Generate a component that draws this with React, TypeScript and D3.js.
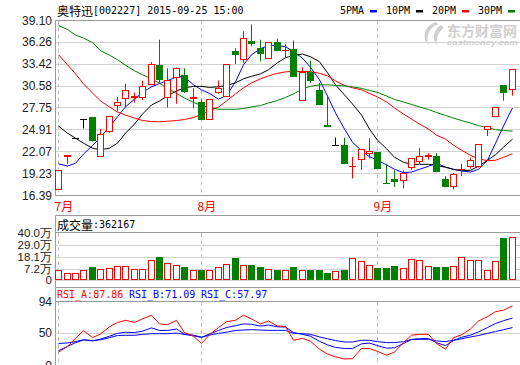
import React from 'react';
import * as d3 from 'd3';

// 奥特迅 002227 daily bars, 2015-07 .. 2015-09-25
const opens = [17.2, 21.45, 23.75, 26.2, 26.5, 21.4, 24.75, 28.1, 29.0, 29.15, 29.1, 30.75, 33.2, 29.1, 31.75, 32.0, 28.95, 28.5, 26.3, 29.7, 29.3, 35.05, 34.1, 36.35, 35.45, 34.15, 36.3, 35.15, 35.3, 28.7, 32.35, 30.0, 25.45, 22.87, 22.9, 20.15, 21.0, 21.85, 22.0, 17.97, 18.45, 18.35, 20.0, 20.75, 21.5, 21.4, 18.5, 17.6, 19.7, 20.1, 20.1, 24.9, 26.6, 30.6, 30.1];
const highs = [19.7, 21.59, 23.75, 26.2, 26.6, 25.0, 26.7, 29.2, 30.9, 29.75, 31.3, 33.7, 36.6, 32.9, 33.0, 32.9, 30.3, 28.9, 28.8, 31.3, 33.4, 35.5, 37.7, 38.6, 36.6, 36.3, 36.75, 36.0, 36.5, 33.0, 33.9, 31.0, 29.4, 23.9, 23.9, 21.4, 22.3, 23.8, 22.0, 20.5, 19.65, 19.65, 21.2, 22.55, 21.9, 21.9, 18.9, 19.3, 20.5, 21.3, 23.0, 25.4, 27.85, 30.65, 32.7];
const lows = [17.1, 20.5, 23.75, 25.1, 23.4, 21.4, 24.5, 27.3, 27.8, 28.45, 28.8, 30.7, 31.0, 27.8, 28.3, 29.7, 27.7, 26.2, 26.2, 29.6, 29.2, 33.45, 33.6, 35.75, 33.8, 34.1, 35.1, 34.2, 31.8, 28.7, 31.0, 28.2, 25.4, 22.87, 20.6, 18.6, 19.7, 21.2, 19.9, 17.92, 17.5, 17.3, 19.7, 20.5, 21.05, 19.4, 17.45, 17.2, 18.9, 19.9, 20.0, 24.1, 26.6, 28.7, 29.35];
const closes = [19.63, 21.59, 23.75, 26.2, 23.5, 24.3, 26.6, 28.5, 30.0, 29.25, 30.5, 33.35, 31.4, 31.3, 32.85, 29.9, 29.05, 26.2, 28.8, 30.3, 33.35, 34.7, 36.7, 36.1, 34.8, 36.25, 35.2, 35.25, 31.8, 32.35, 31.3, 28.2, 25.4, 22.87, 20.6, 20.2, 22.3, 22.15, 19.95, 17.92, 18.15, 19.2, 21.2, 21.5, 21.55, 19.45, 17.5, 19.15, 19.8, 20.95, 23.0, 25.4, 27.85, 29.75, 32.7];
// 成交量, 万
const volumes = [6.34, 3.41, 3.41, 5.5, 8.74, 6.96, 7.9, 9.68, 9.68, 6.96, 6.96, 14.6, 17.3, 12.4, 10.6, 9.05, 6.34, 5.5, 6.34, 8.74, 11.8, 16.4, 10.9, 10.6, 8.22, 6.96, 6.34, 5.5, 8.22, 6.34, 6.34, 5.5, 3.6, 4.56, 6.34, 17.0, 13.7, 10.9, 7.3, 7.3, 10.0, 7.3, 16.1, 14.6, 10.0, 9.05, 8.22, 10.0, 18.15, 15.4, 15.4, 6.34, 13.7, 34.6, 36.2167];

const ma5 = [20.5, 20.22, 20.57, 21.77, 22.87, 23.96, 25.31, 26.6, 27.9, 28.88, 29.76, 30.5, 30.92, 31.3, 31.77, 31.79, 30.75, 30.1, 29.64, 28.88, 29.38, 31.14, 33.36, 34.66, 35.45, 35.84, 35.84, 35.71, 35.05, 34.21, 33.03, 31.4, 29.31, 27.09, 25.01, 23.31, 22.2, 21.42, 20.96, 20.37, 19.79, 19.36, 19.43, 19.79, 20.18, 20.57, 20.09, 19.79, 19.59, 19.43, 19.79, 20.96, 23.18, 25.4, 27.75];
const ma10 = [25.4, 24.48, 23.83, 23.18, 22.53, 22.33, 22.53, 23.18, 24.48, 25.66, 26.96, 28.14, 28.66, 29.31, 29.97, 30.36, 30.55, 30.55, 30.42, 30.49, 30.68, 31.01, 31.53, 31.86, 32.18, 32.71, 33.62, 34.27, 34.6, 34.73, 34.4, 33.75, 32.31, 30.75, 29.44, 28.27, 26.83, 25.01, 23.57, 22.46, 21.35, 20.7, 20.44, 20.44, 20.44, 20.31, 20.05, 19.79, 19.59, 19.66, 20.18, 20.96, 21.68, 22.66, 23.7];
const ma20 = [34.66, 33.36, 32.18, 30.88, 29.7, 28.66, 27.88, 27.22, 26.83, 26.44, 26.12, 25.98, 25.96, 26.03, 26.12, 26.25, 26.51, 26.9, 27.36, 27.88, 28.66, 29.57, 30.36, 31.01, 31.53, 31.92, 32.25, 32.44, 32.48, 32.48, 32.48, 32.25, 31.92, 31.27, 30.68, 30.36, 30.1, 29.64, 29.18, 28.53, 27.75, 26.96, 26.31, 25.66, 25.01, 24.22, 23.7, 22.92, 22.27, 21.61, 21.16, 20.9, 20.96, 21.35, 21.81];
const ma30 = [38.45, 37.93, 37.21, 36.82, 36.23, 35.19, 34.6, 34.01, 33.29, 32.58, 32.05, 31.53, 30.94, 30.29, 29.64, 29.05, 28.46, 28.07, 27.81, 27.58, 27.58, 27.58, 27.68, 27.88, 28.07, 28.4, 28.73, 29.12, 29.57, 30.23, 30.55, 30.75, 30.75, 30.68, 30.62, 30.49, 30.29, 30.03, 29.77, 29.31, 28.86, 28.53, 28.2, 27.88, 27.55, 27.16, 26.77, 26.44, 26.12, 25.79, 25.46, 25.2, 24.94, 24.81, 24.75];

const rsiA = [24, 32, 43, 54, 44, 49, 59, 65, 68, 65, 70, 75, 63, 62, 68, 51, 46, 36, 48, 58, 66, 68, 75, 70, 63, 67, 60, 59.6, 40.5, 43, 39, 28, 21.5, 17.5, 14.5, 15, 29, 29, 25, 19.8, 24, 37, 47.5, 48.6, 48.6, 36, 28, 44, 48, 56, 67, 73, 80, 82, 87.86];
const rsiB = [26, 32, 37, 41, 39.5, 42, 46, 50, 51.5, 51, 53, 57.5, 54, 54, 56, 49, 47.5, 44.5, 49, 54, 58, 60.5, 63, 62.5, 60, 61.5, 59, 58.7, 51, 48.6, 46, 39, 34, 30.5, 29, 29, 35.5, 36.5, 33, 29.5, 30, 36, 41.5, 42.7, 42.7, 37, 33, 40, 44.5, 47.5, 52, 58, 63.5, 67.5, 71.09];
const rsiC = [36, 36.7, 38.5, 41, 40, 41, 44, 47, 47.3, 47.3, 48.5, 49.5, 49.5, 49.5, 50.4, 48.5, 46.5, 44.5, 47.5, 50, 51.5, 54, 54.6, 55.1, 54.5, 54.1, 54.1, 54.1, 50, 49.5, 48.6, 45, 42.5, 40, 38, 38, 40.4, 40.4, 38.5, 37.2, 37.2, 38.5, 41.5, 41.7, 41.7, 39.5, 38.5, 40.4, 42.5, 45, 47, 50, 52.5, 55, 57.97];

const priceTicks = [39.10, 36.26, 33.42, 30.58, 27.75, 24.91, 22.07, 19.23, 16.39];
const volTicks = [40.0, 29.0, 18.1, 7.2, 0];
const volTickLabels = ['40.0万', '29.0万', '18.1万', '7.2万', '0'];
const rsiTicks = [94, 50, 0];
const monthLabels = ['7月', '8月', '9月'];
const monthStarts = [0, 17, 38];
const maNames = ['5PMA', '10PM', '20PM', '30PM'];

const RED = '#ff0000';
const GREEN = '#008000';
const BLUE = '#0000ff';
const FRAME = '#9a9a9a';
const GRID = '#d2d2d2';
const CJK = '"Noto Sans CJK SC", sans-serif';
const MONO = '"DejaVu Sans Mono", monospace';
const SANS = '"Liberation Sans", Arial, sans-serif';

const W = 520, H = 365;
const L = 55.5;
const VOL_BOTTOM = 280;

const App = () => {
  const idx = d3.range(closes.length);
  const x = d3.scaleBand<number>().domain(idx).range([54, 516]).paddingInner(0.3).paddingOuter(0.15);
  const cx = (i: number) => Math.round(x(i)! + x.bandwidth() / 2) + 0.5;

  const yP = d3.scaleLinear().domain([16.39, 39.10]).range([195.5, 20.5]);
  const yV = d3.scaleLinear().domain([0, 40]).range([277, 233]);
  const yR = d3.scaleLinear().domain([0, 94]).range([369.5, 301.5]);

  const line = (s: d3.ScaleLinear<number, number>) =>
    d3.line<number>().x((_, i) => cx(i)).y((d) => s(d));

  const maSeries = [ma5, ma10, ma20, ma30];
  const maColors = [BLUE, '#000', RED, GREEN];
  const rsiSeries = [rsiC, rsiB, rsiA];
  const rsiColors = [BLUE, BLUE, RED];

  const crisp = (v: number) => Math.round(v - 0.5) + 0.5;

  return (
    <svg width={W} height={H} style={{ position: 'absolute', left: 0, top: 0, background: '#fff' }}>
      <rect width={W} height={H} fill="#fff" />

      {/* title + legend */}
      <text x={57} y={10} dominantBaseline="central" fill="#000">
        <tspan fontFamily={CJK} fontSize={12}>奥特迅</tspan>
        <tspan fontFamily={MONO} fontSize={10}>[002227] 2015-09-25 15:00</tspan>
      </text>
      {maNames.map((n, k) => (
        <g key={n}>
          <text x={340 + k * 46} y={10} dominantBaseline="central" fontFamily={MONO} fontSize={10} fill="#000">{n}</text>
          <rect x={370 + k * 46} y={10} width={7} height={2.5} fill={maColors[k]} />
        </g>
      ))}

      {/* watermark */}
      <g fill="#cfcfcf">
        <path d="M436,22 C424,26 421,38 429,45 C425,37 429,28 438,24 Z" />
        <path d="M441,25 C433,30 432,39 437,45 C436,37 439,31 444,28 Z" />
        <text x={447} y={29.5} dominantBaseline="central" fontFamily={CJK} fontWeight="bold" fontSize={14}>东方财富网</text>
        <text x={447} y={42.5} dominantBaseline="central" fontFamily={SANS} fontWeight="bold" fontStyle="italic" fontSize={8} textLength={71} lengthAdjust="spacingAndGlyphs">eastmoney.com</text>
      </g>

      {/* main price panel */}
      {priceTicks.map((t) => (
        <g key={t}>
          <line x1={L} x2={W} y1={crisp(yP(t))} y2={crisp(yP(t))} stroke={GRID} />
          <text x={52} y={yP(t)} textAnchor="end" dominantBaseline="central" fontFamily={SANS} fontSize={12} fill="#222">{t.toFixed(2)}</text>
        </g>
      ))}
      {monthStarts.map((m, k) => (
        <g key={m}>
          <line x1={cx(m)} x2={cx(m)} y1={20.5} y2={195.5} stroke="#c4c4c4" strokeDasharray="4,3" />
          <line x1={cx(m)} x2={cx(m)} y1={233} y2={VOL_BOTTOM} stroke="#c4c4c4" strokeDasharray="4,3" />
          <line x1={cx(m)} x2={cx(m)} y1={302} y2={H} stroke="#c4c4c4" strokeDasharray="4,3" />
          <text x={cx(m) - 4} y={205.5} dominantBaseline="central" fontFamily={CJK} fontSize={12} fill={RED}>{monthLabels[k]}</text>
        </g>
      ))}
      <line x1={L} x2={W} y1={20.5} y2={20.5} stroke={FRAME} />
      <line x1={L} x2={W} y1={195.5} y2={195.5} stroke={FRAME} />
      <line x1={L} x2={L} y1={20.5} y2={195.5} stroke={FRAME} />

      {maSeries.map((s, k) => (
        <path key={k} d={line(yP)(s)!} fill="none" stroke={maColors[k]} strokeWidth={1} />
      ))}

      {idx.map((i) => {
        const o = opens[i], c = closes[i];
        const col = c > o ? RED : c < o ? GREEN : '#000';
        const X = cx(i);
        const top = crisp(yP(Math.max(o, c)));
        const bot = crisp(yP(Math.min(o, c)));
        return (
          <g key={i}>
            <line x1={X} x2={X} y1={yP(highs[i])} y2={yP(lows[i])} stroke={col} />
            {bot - top < 1 ? (
              <line x1={X - 3.5} x2={X + 3.5} y1={top} y2={top} stroke={col} />
            ) : c > o ? (
              <rect x={X - 3} y={top} width={6} height={bot - top} fill="#fff" stroke={RED} />
            ) : (
              <rect x={X - 3.5} y={top - 0.5} width={7} height={bot - top + 1} fill={GREEN} />
            )}
          </g>
        );
      })}

      {/* volume panel */}
      <line x1={L} x2={W} y1={215.5} y2={215.5} stroke={FRAME} />
      <line x1={L} x2={W} y1={232.5} y2={232.5} stroke={FRAME} />
      <line x1={L} x2={L} y1={215.5} y2={287.5} stroke={FRAME} />
      <text x={57} y={223.5} dominantBaseline="central" fill="#000">
        <tspan fontFamily={CJK} fontSize={12}>成交量</tspan>
        <tspan fontFamily={MONO} fontSize={10}>:{Math.round(volumes[volumes.length - 1] * 10000)}</tspan>
      </text>
      {volTicks.map((t, k) => (
        <g key={t}>
          {k > 0 && <line x1={L} x2={W} y1={crisp(t === 0 ? VOL_BOTTOM : yV(t))} y2={crisp(t === 0 ? VOL_BOTTOM : yV(t))} stroke={GRID} />}
          <text x={52} y={t === 0 ? VOL_BOTTOM : yV(t)} textAnchor="end" dominantBaseline="central" fontFamily={SANS} fontSize={11.5} fill="#222">{volTickLabels[k]}</text>
        </g>
      ))}
      {idx.map((i) => {
        const X = cx(i);
        const top = crisp(yV(volumes[i]));
        return closes[i] >= opens[i] ? (
          <rect key={i} x={X - 3} y={top} width={6} height={VOL_BOTTOM - 0.5 - top} fill="#fff" stroke={RED} />
        ) : (
          <rect key={i} x={X - 3.5} y={top - 0.5} width={7} height={VOL_BOTTOM - top + 0.5} fill={GREEN} />
        );
      })}

      {/* RSI panel */}
      <line x1={L} x2={W} y1={287.5} y2={287.5} stroke={FRAME} />
      <line x1={L} x2={W} y1={301.5} y2={301.5} stroke={FRAME} />
      <line x1={L} x2={L} y1={287.5} y2={H} stroke={FRAME} />
      <text y={294} dominantBaseline="central" fontFamily={MONO} fontSize={10}>
        <tspan x={57} fill={RED}>RSI_A:{rsiA[rsiA.length - 1].toFixed(2)}</tspan>
        <tspan x={129} fill={BLUE}>RSI_B:{rsiB[rsiB.length - 1].toFixed(2)}</tspan>
        <tspan x={201} fill={BLUE}>RSI_C:{rsiC[rsiC.length - 1].toFixed(2)}</tspan>
      </text>
      {rsiTicks.map((t) => (
        <g key={t}>
          {t === 50 && <line x1={L} x2={W} y1={crisp(yR(t))} y2={crisp(yR(t))} stroke={GRID} />}
          <text x={52} y={Math.min(yR(t), 366)} textAnchor="end" dominantBaseline="central" fontFamily={SANS} fontSize={12} fill="#222">{t}</text>
        </g>
      ))}
      {rsiSeries.map((s, k) => (
        <path key={k} d={line(yR)(s)!} fill="none" stroke={rsiColors[k]} strokeWidth={1} />
      ))}
    </svg>
  );
};

export default App;
